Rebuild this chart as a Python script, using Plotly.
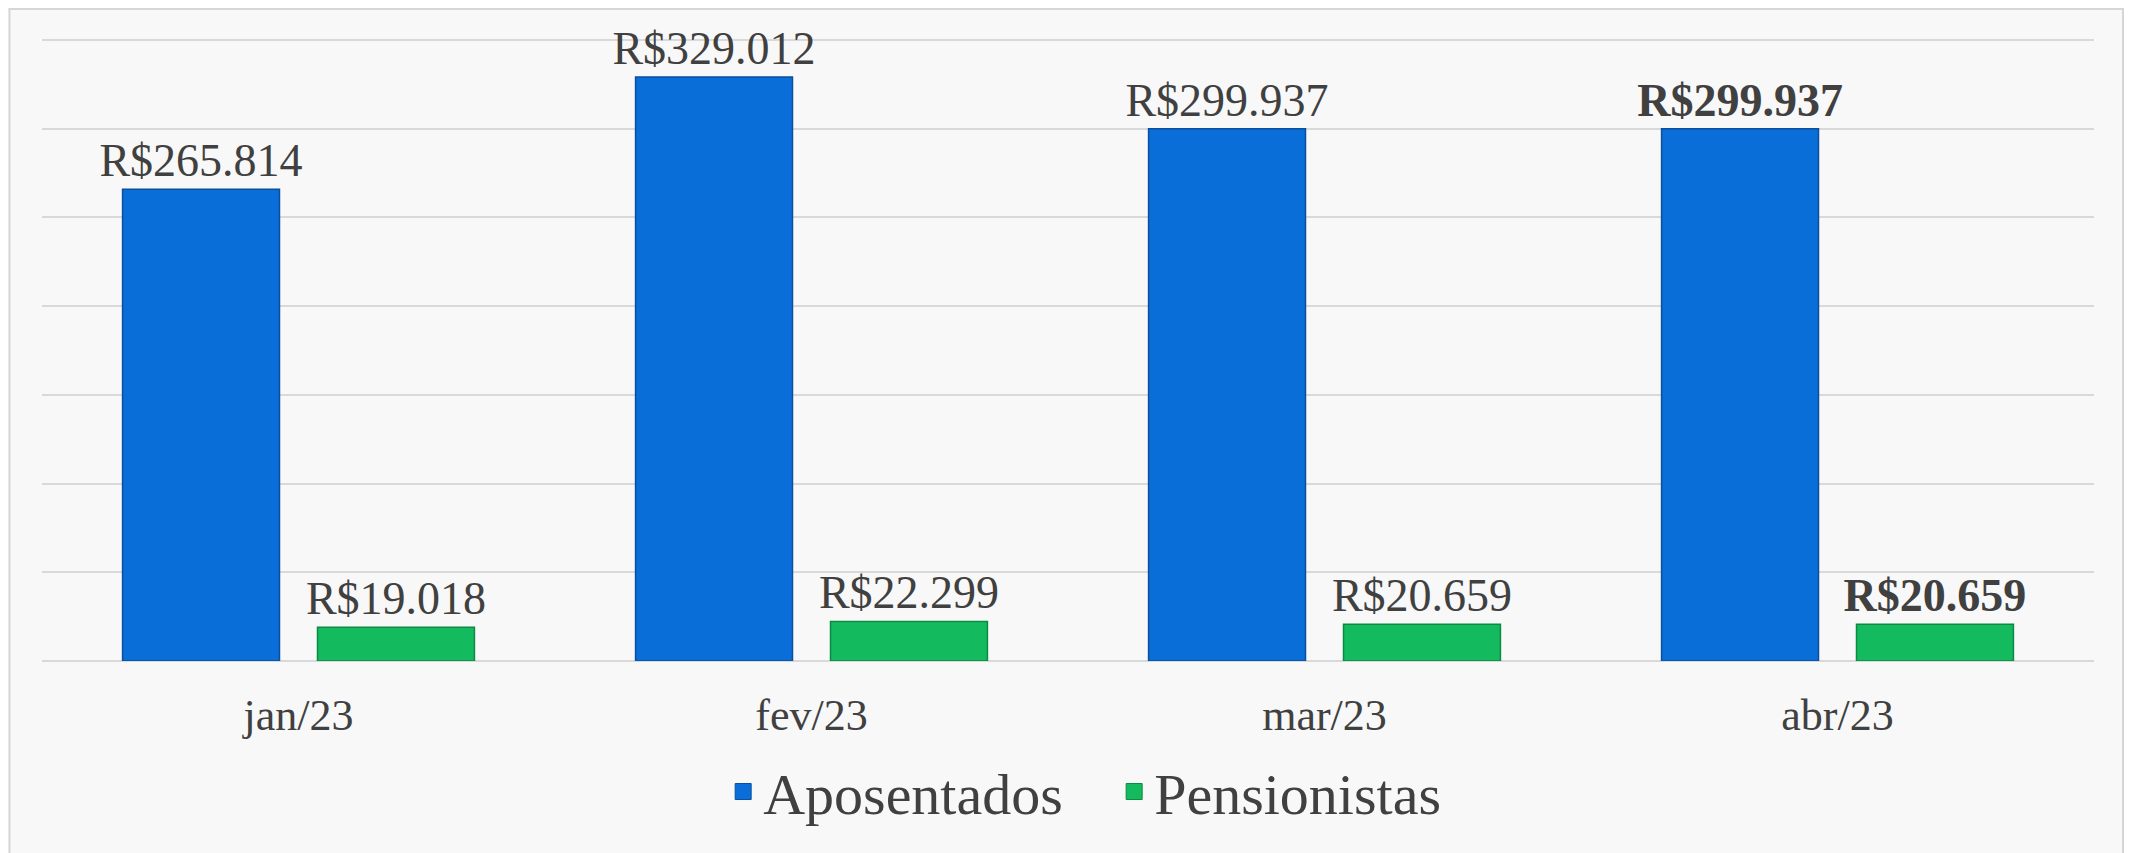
import plotly.graph_objects as go

months = ["jan/23", "fev/23", "mar/23", "abr/23"]
aposentados = [265814, 329012, 299937, 299937]
pensionistas = [19018, 22299, 20659, 20659]
bold_last = [False, False, False, True]

def fmt_templates(flags):
    return ["<b>R$%{y:,.0f}</b>" if b else "R$%{y:,.0f}" for b in flags]

FONT = "Liberation Serif, DejaVu Serif, serif"
TXT = "#404040"
BLUE, BLUE_EDGE = "#0a6ed8", "#0a4f9e"
GREEN, GREEN_EDGE = "#14bb5e", "#0a8a42"

fig = go.Figure()
fig.add_trace(go.Bar(
    name="Aposentados", x=months, y=aposentados, showlegend=False,
    marker=dict(color=BLUE, line=dict(color=BLUE_EDGE, width=1.5)),
    texttemplate=fmt_templates(bold_last), textposition="outside",
    constraintext="none",
    textfont=dict(family=FONT, size=46, color=TXT), cliponaxis=False,
))
fig.add_trace(go.Bar(
    name="Pensionistas", x=months, y=pensionistas, showlegend=False,
    marker=dict(color=GREEN, line=dict(color=GREEN_EDGE, width=1.5)),
    texttemplate=fmt_templates(bold_last), textposition="outside",
    constraintext="none",
    textfont=dict(family=FONT, size=46, color=TXT), cliponaxis=False,
))
# legend entries
for nm, c, e in [("Aposentados", BLUE, BLUE_EDGE), ("Pensionistas", GREEN, GREEN_EDGE)]:
    fig.add_trace(go.Scatter(x=[None], y=[None], mode="markers", name=nm,
                             marker=dict(symbol="square", size=26, color=c,
                                         line=dict(color=e, width=1))))

W, H = 2124, 845
L, R, T, B = 34, 38, 30, 192
fig.update_layout(
    width=W, height=H,
    separators=",.",
    barmode="group", bargap=0.24, bargroupgap=0.195,
    paper_bgcolor="#f8f8f8", plot_bgcolor="#f8f8f8",
    margin=dict(l=L, r=R, t=T, b=B),
    font=dict(family=FONT, color=TXT),
    showlegend=True,
    legend=dict(orientation="h", x=0.5225, xanchor="center", y=-0.21, yanchor="middle",
                font=dict(family=FONT, size=58, color=TXT), itemsizing="trace",
                itemwidth=30, entrywidth=346, entrywidthmode="pixels",
                bgcolor="rgba(0,0,0,0)"),
)
fig.update_yaxes(range=[0, 351000], tickvals=[0, 50000, 100000, 150000, 200000, 250000, 300000, 350000],
                 showticklabels=False,
                 gridcolor="#d9d9d9", gridwidth=2, zeroline=True,
                 zerolinecolor="#d9d9d9", zerolinewidth=2, fixedrange=True)
fig.update_xaxes(showgrid=False, showline=False, ticks="",
                 tickfont=dict(family=FONT, size=44, color=TXT),
                 ticklabelstandoff=24)

pw, ph = W - L - R, H - T - B
fig.add_shape(type="rect", xref="paper", yref="paper",
              x0=(1.5 - L) / pw, x1=(2115 - L) / pw,
              y0=-(B + 10) / ph, y1=(ph + T - 1) / ph,
              line=dict(color="#d6d6d6", width=2), fillcolor="rgba(0,0,0,0)",
              layer="below")

fig.write_html("out.html")
